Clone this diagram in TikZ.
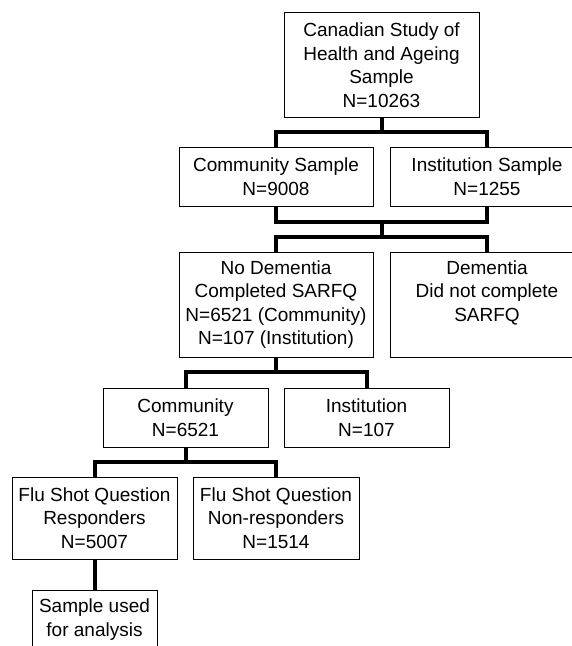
\documentclass[tikz,border=0pt]{standalone}
\usepackage{fontspec}
\setmainfont{Liberation Sans}

\tikzset{
  box/.style={draw, line width=1pt, align=center, inner sep=0pt,
    font=\fontsize{19}{23.5}\selectfont},
  link/.style={line width=4pt, line join=miter}
}

\begin{document}
\begin{tikzpicture}[x=1pt, y=-1pt]
  \useasboundingbox (0,0) rectangle (572,646);

  \node[box, minimum width=195pt, minimum height=105pt] (top) at (381.5,65)
    {Canadian Study of\\Health and Ageing\\Sample\\N=10263};

  \node[box, minimum width=194pt, minimum height=59pt] (commsamp) at (276,176.5)
    {Community Sample\\N=9008};
  \node[box, minimum width=194pt, minimum height=59pt] (instsamp) at (487,176.5)
    {Institution Sample\\N=1255};

  \node[box, minimum width=194pt, minimum height=105pt] (nodem) at (276,304.5)
    {No Dementia\\Completed SARFQ\\N=6521 (Community)\\N=107 (Institution)};
  \node[box, minimum width=194pt, minimum height=105pt] (dem) at (487,304.5)
    {Dementia\\Did not complete\\SARFQ\\\vphantom{()}};

  \node[box, minimum width=165pt, minimum height=59pt] (comm) at (185.5,417.5)
    {Community\\N=6521};
  \node[box, minimum width=165pt, minimum height=59pt] (inst) at (366.5,417.5)
    {Institution\\N=107};

  \node[box, minimum width=165pt, minimum height=82pt] (resp) at (94.5,518)
    {Flu Shot Question\\Responders\\N=5007};
  \node[box, minimum width=166pt, minimum height=82pt] (nonresp) at (276,518)
    {Flu Shot Question\\Non-responders\\N=1514};

  \node[box, minimum width=125pt, minimum height=59pt] (sample) at (94.5,619.5)
    {Sample used\\for analysis};

  % junctions of the brackets
  \coordinate (j1) at (381.5,132);
  \coordinate (m2) at (381.5,222);
  \coordinate (s2) at (381.5,237);
  \coordinate (j3) at (276,372);
  \coordinate (j4) at (185.5,462);

  \draw[link] (commsamp) |- (m2) -| (instsamp);

  \foreach \j/\up/\lft/\rgt in {j1/top/commsamp/instsamp, s2/m2/nodem/dem,
      j3/nodem/comm/inst, j4/comm/resp/nonresp} {
    \draw[link] (\up) -- (\j);
    \draw[link] (\lft) |- (\j) -| (\rgt);
  }

  \draw[link] (resp) -- (sample);

\end{tikzpicture}
\end{document}
